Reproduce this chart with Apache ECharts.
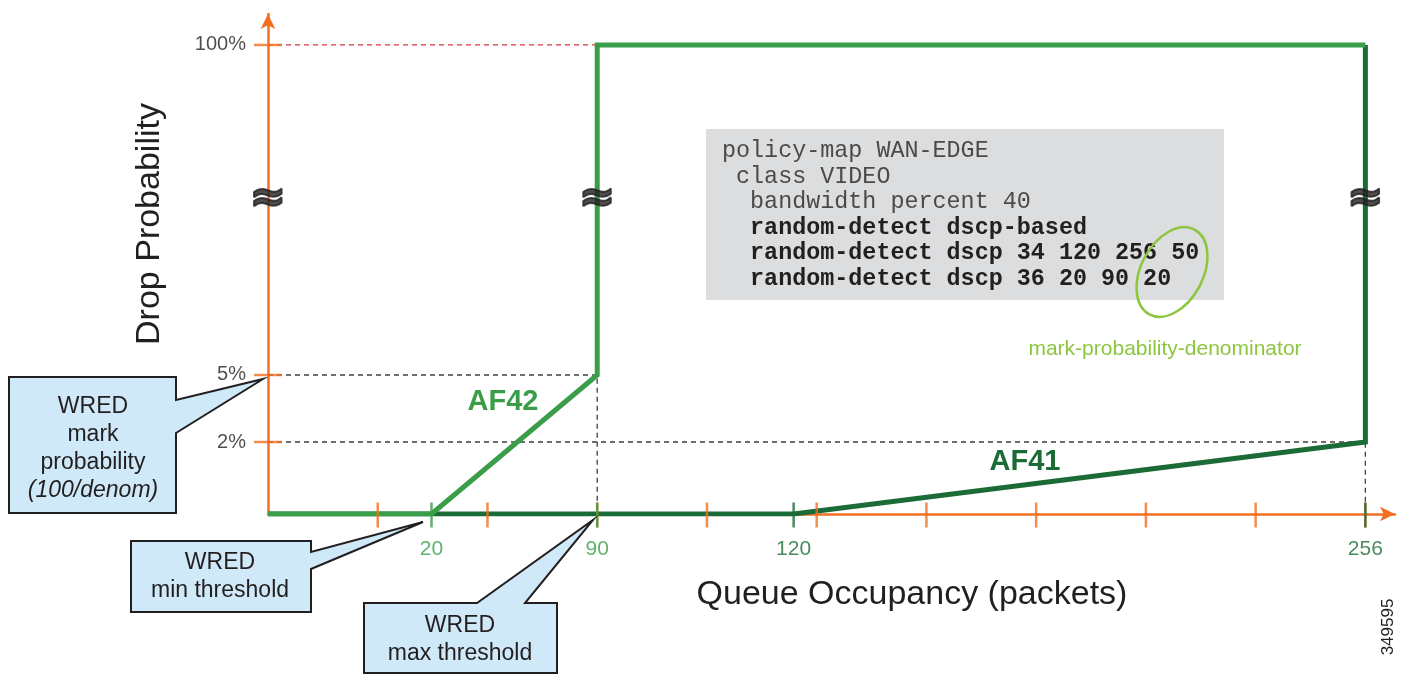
<!DOCTYPE html>
<html>
<head>
<meta charset="utf-8">
<title>WRED drop probability</title>
<script src="https://cdn.jsdelivr.net/npm/echarts@6/dist/echarts.min.js"></script>
<style>
  html, body { margin: 0; padding: 0; background: #fff; }
  #chart { width: 1413px; height: 676px; }
</style>
</head>
<body>
<div id="chart"></div>
<script>
// drop profiles: queue occupancy (packets) -> drop probability (%)
const af41Queue = [0, 120, 256, 256];
const af41Prob = [0, 0, 2, 100];
const af42Queue = [0, 20, 90, 90, 256];
const af42Prob = [0, 0, 5, 100, 100];

// labelled values on the axes
const queueTickValues = [20, 90, 120, 256];
const queueTickClass = ["AF42", "AF42", "AF41", "AF41"];
const probTickValues = [2, 5, 100];
const probTickLabels = ["2%", "5%", "100%"];

// plain marks on the (not to scale) queue axis
const plainTicks = [1, 2, 3, 4, 5, 6, 7, 8, 9, 10];

// the drawing is not to scale: piecewise scales for the broken axes
const queueBreaks = [0, 20, 90, 120, 256];
const queueBreakPos = [0, 1.49, 3, 4.79, 10];
const probBreaks = [0, 2, 5, 100];
const probBreakPos = [0, 15.35, 29.64, 100];
const breakLevel = 67;

function piecewise(knots, pos, v) {
  for (let i = 1; i < knots.length; i++) {
    if (v <= knots[i]) {
      let t = (v - knots[i - 1]) / (knots[i] - knots[i - 1]);
      return pos[i - 1] + t * (pos[i] - pos[i - 1]);
    }
  }
  return pos[pos.length - 1];
}
const xs = v => piecewise(queueBreaks, queueBreakPos, v);
const ys = v => piecewise(probBreaks, probBreakPos, v);
const toPoints = (qs, ps) => qs.map((q, i) => [xs(q), ys(ps[i])]);

const ORANGE = "#f26f21";
const LIGHT = "#3a9d48";
const DARK = "#1b6b37";
const INK = "#231f20";
const FONT = '"Liberation Sans", Arial, sans-serif';
const MONO = '"Liberation Mono", "Courier New", monospace';
const classColor = { AF41: DARK, AF42: LIGHT };

function callout(points, lines, cx, y0) {
  let out = [{
    type: "polygon",
    shape: { points: points },
    style: { fill: "#cfe9f8", stroke: INK, lineWidth: 2 },
    z: 10
  }];
  lines.forEach((l, i) => {
    out.push({
      type: "text",
      x: cx,
      y: y0 + i * 28,
      style: {
        text: l.text,
        font: (l.italic ? "italic " : "") + "23px " + FONT,
        fill: INK,
        align: "center",
        verticalAlign: "middle"
      },
      z: 11
    });
  });
  return out;
}

const codeLines = [
  "policy-map WAN-EDGE",
  " class VIDEO",
  "  bandwidth percent 40",
  "  random-detect dscp-based",
  "  random-detect dscp 34 120 256 50",
  "  random-detect dscp 36 20 90 20"
];

let graphics = [
  { type: "rect", shape: { x: 706, y: 129, width: 518, height: 171 }, style: { fill: "#dcdddf" }, z: 1 },
  {
    type: "ellipse", x: 1172, y: 272, rotation: -0.49,
    shape: { cx: 0, cy: 0, rx: 31, ry: 48 },
    style: { fill: "none", stroke: "#8cc63f", lineWidth: 2.5 }, z: 3
  },
  {
    type: "text", x: 1165, y: 349,
    style: { text: "mark-probability-denominator", font: "21px " + FONT, fill: "#8cc63f", align: "center", verticalAlign: "middle" }
  },
  {
    type: "text", x: 150, y: 224, rotation: Math.PI / 2,
    style: { text: "Drop Probability", font: "34px " + FONT, fill: INK, align: "center", verticalAlign: "middle" }
  },
  {
    type: "text", x: 912, y: 595,
    style: { text: "Queue Occupancy (packets)", font: "34px " + FONT, fill: INK, align: "center", verticalAlign: "middle" }
  },
  {
    type: "text", x: 503, y: 402,
    style: { text: "AF42", font: "bold 29px " + FONT, fill: LIGHT, align: "center", verticalAlign: "middle" }
  },
  {
    type: "text", x: 1025, y: 462,
    style: { text: "AF41", font: "bold 29px " + FONT, fill: DARK, align: "center", verticalAlign: "middle" }
  },
  {
    type: "text", x: 1388, y: 627, rotation: Math.PI / 2,
    style: { text: "349595", font: "17px " + FONT, fill: INK, align: "center", verticalAlign: "middle" }
  }
];

codeLines.forEach((line, i) => {
  let bold = i >= 3;
  graphics.push({
    type: "text", x: 722, y: 151 + i * 25.6,
    style: {
      text: line,
      font: (bold ? "bold " : "") + "23.4px " + MONO,
      fill: bold ? INK : "#4a4a4a", align: "left", verticalAlign: "middle"
    },
    z: 2
  });
});

graphics = graphics.concat(
  callout([[9, 377], [176, 377], [176, 400], [263, 379], [176, 433], [176, 513], [9, 513]],
    [{ text: "WRED" }, { text: "mark" }, { text: "probability" }, { text: "(100/denom)", italic: true }], 93, 407),
  callout([[131, 541], [311, 541], [311, 552], [423, 522], [311, 569], [311, 612], [131, 612]],
    [{ text: "WRED" }, { text: "min threshold" }], 220, 563),
  callout([[364, 603], [477, 603], [593, 520], [525, 603], [557, 603], [557, 673], [364, 673]],
    [{ text: "WRED" }, { text: "max threshold" }], 460, 626)
);

const axisLineStyle = {
  show: true,
  symbol: ["none", "arrow"],
  symbolSize: [11, 15],
  lineStyle: { color: ORANGE, width: 2.5 }
};

function guide(qs, ps, color) {
  return {
    type: "line",
    data: toPoints(qs, ps),
    symbol: "none",
    silent: true,
    lineStyle: { color: color, width: 1.3, type: [5, 4] },
    z: 1
  };
}

let option = {
  backgroundColor: "#fff",
  animation: false,
  grid: { left: 268, right: 18, top: 14, bottom: 162 },
  xAxis: {
    type: "value", min: 0, max: 10.27,
    axisLine: axisLineStyle,
    axisTick: { show: false },
    axisLabel: { show: false },
    splitLine: { show: false }
  },
  yAxis: {
    type: "value", min: 0, max: 106.6,
    axisLine: axisLineStyle,
    axisTick: { show: false },
    axisLabel: { show: false },
    splitLine: { show: false }
  },
  graphic: graphics,
  series: [
    guide([0, 90], [100, 100], "#e0323a"),
    guide([0, 90, 90], [5, 5, 0], "#3f3f3f"),
    guide([0, 256, 256], [2, 2, 0], "#3f3f3f"),
    {
      name: "AF41", type: "line", data: toPoints(af41Queue, af41Prob),
      symbol: "none", lineStyle: { color: DARK, width: 5, join: "miter" }, z: 3
    },
    {
      name: "AF42", type: "line", data: toPoints(af42Queue, af42Prob),
      symbol: "none", lineStyle: { color: LIGHT, width: 5, join: "miter" }, z: 4
    },
    {
      // plain orange marks along the queue axis
      type: "scatter", clip: false, silent: true, z: 5,
      data: plainTicks.map(u => [u, 0]),
      symbol: "rect", symbolSize: [2.5, 25], symbolOffset: [0, 1],
      itemStyle: { color: ORANGE }
    },
    {
      // threshold marks and labels on the queue axis
      type: "scatter", clip: false, silent: true, z: 6,
      data: queueTickValues.map((q, i) => ({
        value: [xs(q), 0],
        itemStyle: { color: classColor[queueTickClass[i]] },
        label: { color: classColor[queueTickClass[i]] }
      })),
      symbol: "rect", symbolSize: [2.5, 25], symbolOffset: [0, 1],
      label: {
        show: true, position: "bottom", distance: 11,
        fontFamily: "Liberation Sans", fontSize: 21,
        formatter: p => queueTickValues[p.dataIndex]
      }
    },
    {
      // probability marks on the vertical axis
      type: "scatter", clip: false, silent: true, z: 6,
      data: probTickValues.map(p => [0, ys(p)]),
      symbol: "rect", symbolSize: [28, 2.5],
      itemStyle: { color: ORANGE },
      label: {
        show: true, position: "left", distance: 8,
        fontFamily: "Liberation Sans", fontSize: 20, color: INK,
        formatter: p => probTickLabels[p.dataIndex]
      }
    },
    {
      // axis break symbols
      type: "scatter", clip: false, silent: true, z: 7,
      data: [0, 90, 256].map(q => [xs(q), breakLevel]),
      symbolSize: 1, itemStyle: { color: "rgba(0,0,0,0)" },
      label: {
        show: true, position: "inside", formatter: "\u2248",
        fontFamily: "DejaVu Sans", fontWeight: "bold", fontSize: 44, color: INK,
        textBorderColor: INK, textBorderWidth: 2
      }
    }
  ]
};

let chart = echarts.init(document.getElementById("chart"));
chart.setOption(option);
window.addEventListener("resize", () => chart.resize());
</script>
</body>
</html>
